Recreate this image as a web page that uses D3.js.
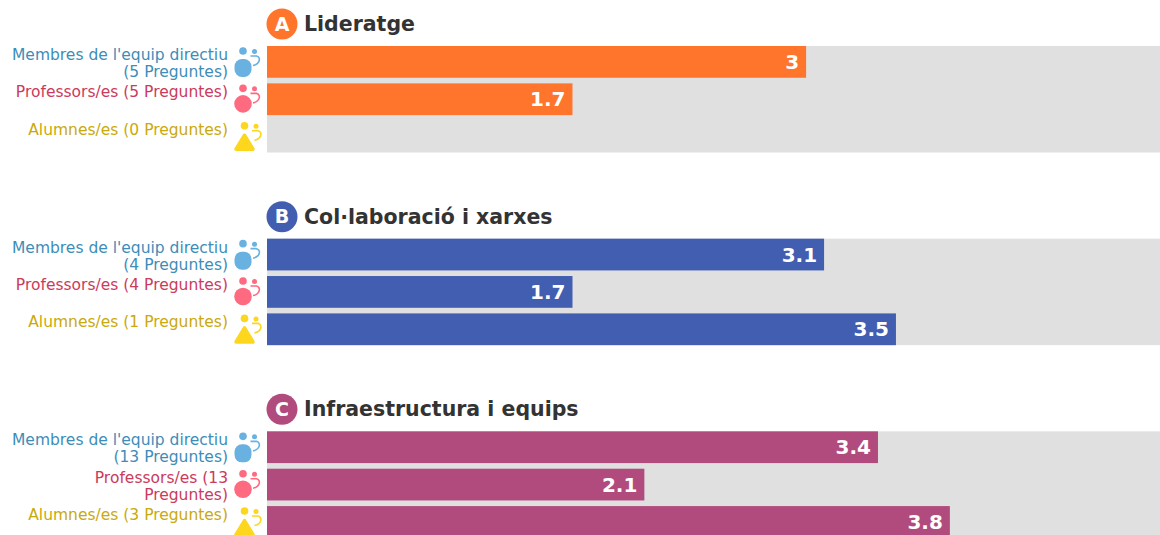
<!DOCTYPE html>
<html>
<head>
<meta charset="utf-8">
<script src="https://cdn.jsdelivr.net/npm/d3@7"></script>
<style>
    html, body { margin: 0; padding: 0; background: #fff; overflow: hidden; }
    svg { display: block; font-family: "DejaVu Sans", sans-serif; }
</style>
</head>
<body>
<svg width="1160" height="535"></svg>
<script>
const letters = ['A', 'B', 'C'];
const titles = ['Lideratge', 'Col·laboració i xarxes', 'Infraestructura i equips'];
const groups = ['Membres de l\'equip directiu', 'Professors/es', 'Alumnes/es'];
const questions = [[5, 5, 0], [4, 4, 1], [13, 13, 3]];
const scores = [[3, 1.7, null], [3.1, 1.7, 3.5], [3.4, 2.1, 3.8]];

const sectionColors = ['#ff752b', '#415eb1', '#b14b7e'];
const labelColors = ['#3d8db8', '#cc3a5c', '#c9a90c'];
const iconColors = ['#68b1e0', '#fe6a80', '#fdd61e'];

const thisSVG = d3.select('svg');
const x = d3.scaleLinear().domain([0, 5]).range([267, 1165.5]);
const sectionY = d3.scaleBand().domain(letters).range([46, 624]).paddingInner(0);
const rowY = d3.scaleBand().domain(groups).range([0, 106.5]).paddingInner(0.15).paddingOuter(0);

const sections = thisSVG.selectAll('g.section')
    .data(letters)
    .join('g')
    .attr('class', 'section')
    .attr('transform', d => `translate(0,${sectionY(d)})`);

// grey track behind the bars
sections.append('rect')
    .attr('x', x(0)).attr('y', 0)
    .attr('width', x(5) - x(0)).attr('height', 106.5)
    .attr('fill', '#e0e0e0');

// badge + title
sections.append('circle')
    .attr('cx', 282).attr('cy', -22).attr('r', 15.5)
    .attr('fill', (d, i) => sectionColors[i]);
sections.append('text')
    .attr('x', 282).attr('y', -15.5)
    .attr('text-anchor', 'middle')
    .attr('font-size', 19).attr('font-weight', 'bold')
    .attr('fill', '#fff')
    .text(d => d);
sections.append('text')
    .attr('x', 304).attr('y', -15)
    .attr('font-size', 20.5).attr('font-weight', 'bold')
    .attr('fill', '#333')
    .text((d, i) => titles[i]);

sections.each(function (letter, s) {
    const rows = d3.select(this).selectAll('g.row')
        .data(groups)
        .join('g')
        .attr('class', 'row')
        .attr('transform', d => `translate(0,${rowY(d)})`);

    rows.append('rect')
        .attr('x', x(0)).attr('y', 0)
        .attr('width', (d, i) => scores[s][i] === null ? 0 : x(scores[s][i]) - x(0))
        .attr('height', rowY.bandwidth())
        .attr('fill', sectionColors[s]);

    rows.filter((d, i) => scores[s][i] !== null).append('text')
        .attr('x', function (d) { return x(scores[s][groups.indexOf(d)]) - 7; })
        .attr('y', 23)
        .attr('text-anchor', 'end')
        .attr('font-size', 20).attr('font-weight', 'bold')
        .attr('fill', '#fff')
        .text(d => scores[s][groups.indexOf(d)]);

    rows.each(function (d, i) {
        const row = d3.select(this);
        const full = `${d} (${questions[s][i]} Preguntes)`;
        // same wrapping as the original: too long ones break in two lines
        let lines = [full];
        if (i == 0) lines = [d, `(${questions[s][i]} Preguntes)`];
        if (i == 1 && questions[s][i] > 9) lines = [`${d} (${questions[s][i]}`, 'Preguntes)'];
        row.selectAll('text.label')
            .data(lines)
            .join('text')
            .attr('class', 'label')
            .attr('x', 228)
            .attr('y', (l, k) => 14 + k * 17)
            .attr('text-anchor', 'end')
            .attr('font-size', 15.5)
            .attr('fill', labelColors[i])
            .text(l => l);
        drawIcon(row.append('g').attr('transform', `translate(${i == 2 ? 247.5 : 246},2)`), i);
    });
});

function drawIcon(g, type) {
    const color = iconColors[type];
    g.append('circle').attr('cx', -3).attr('cy', 3).attr('r', 3.8).attr('fill', color);
    g.append('circle').attr('cx', 8.5).attr('cy', 3.5).attr('r', 2.5).attr('fill', color);

    const arm = d3.path();
    arm.moveTo(4.5, 8);
    arm.lineTo(10.5, 8);
    arm.bezierCurveTo(15, 9, 14.5, 16, 7, 17.5);
    g.append('path').attr('d', arm.toString())
        .attr('fill', 'none').attr('stroke', color).attr('stroke-width', 1.6);

    if (type == 0) {
        g.append('rect').attr('x', -11.5).attr('y', 11).attr('width', 17).attr('height', 18)
            .attr('rx', 7.5).attr('fill', color);
    }
    else if (type == 1) {
        g.append('circle').attr('cx', -3).attr('cy', 18.5).attr('r', 8.8).attr('fill', color);
    }
    else {
        const tri = d3.path();
        tri.moveTo(-3, 12.5);
        tri.lineTo(5.5, 26.5);
        tri.lineTo(-11.5, 26.5);
        tri.closePath();
        g.append('path').attr('d', tri.toString())
            .attr('fill', color).attr('stroke', color)
            .attr('stroke-width', 3.5).attr('stroke-linejoin', 'round');
    }
}
</script>
</body>
</html>
